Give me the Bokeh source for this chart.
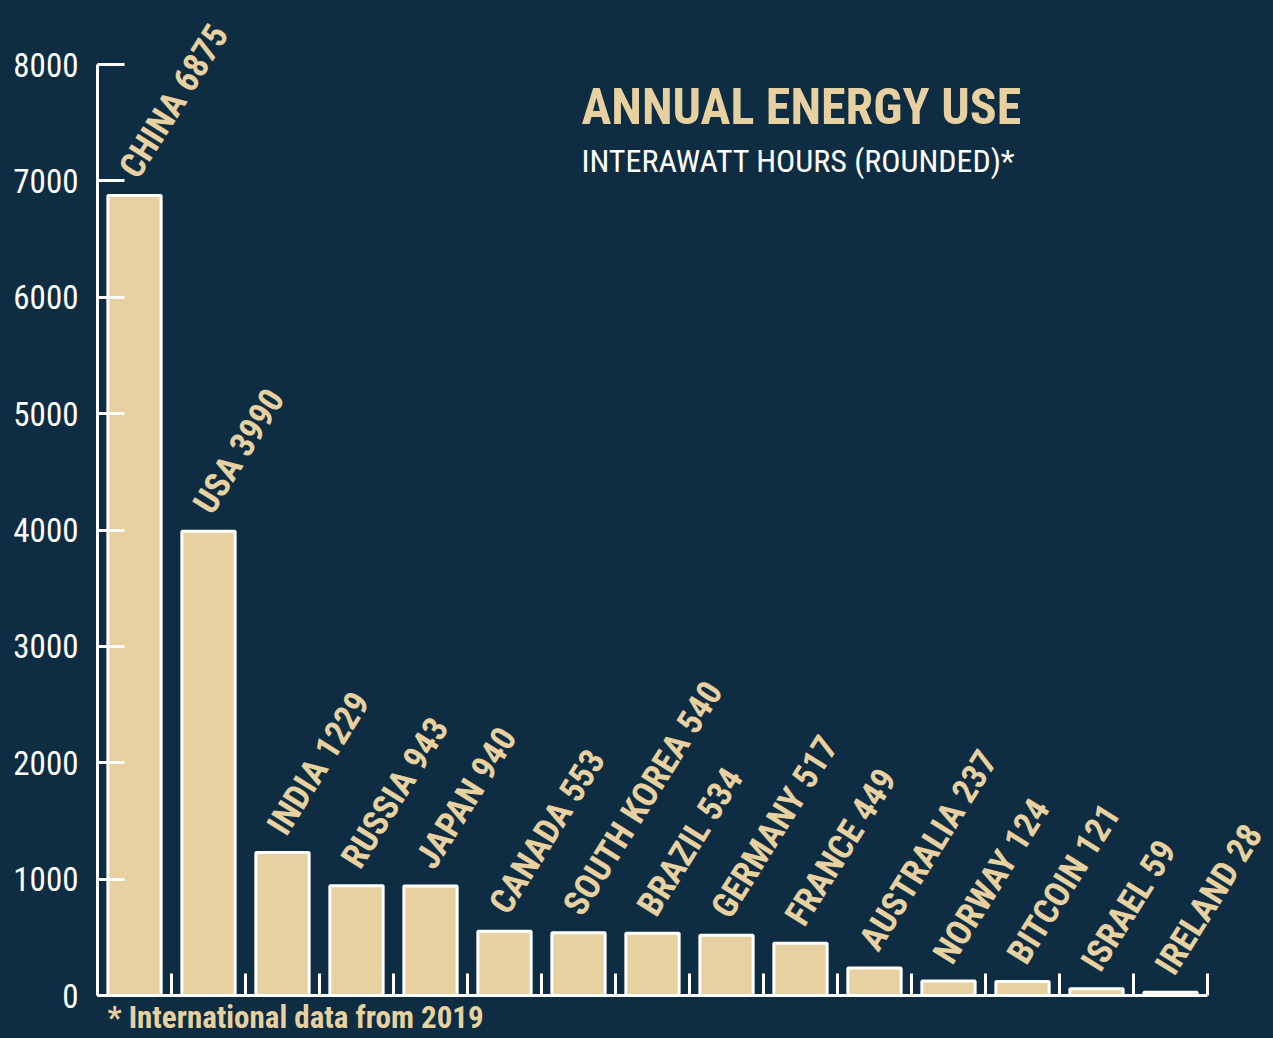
from bokeh.plotting import figure
from bokeh.models import FixedTicker, Label, ColumnDataSource, Range1d, Title
from bokeh.core.properties import value
from bokeh.embed import file_html
from bokeh.resources import INLINE

countries = ["CHINA", "USA", "INDIA", "RUSSIA", "JAPAN", "CANADA", "SOUTH KOREA", "BRAZIL",
             "GERMANY", "FRANCE", "AUSTRALIA", "NORWAY", "BITCOIN", "ISRAEL", "IRELAND"]
energy_twh = [6875, 3990, 1229, 943, 940, 553, 540, 534, 517, 449, 237, 124, 121, 59, 28]
y_ticks = [0, 1000, 2000, 3000, 4000, 5000, 6000, 7000, 8000]

BG = "#0f2d42"
TAN = "#e8d1a1"
FONT = "'Roboto Condensed', 'DejaVu Sans Condensed', sans-serif"

xs = [i + 0.5 for i in range(len(countries))]
labels = [f"{c} {v}" for c, v in zip(countries, energy_twh)]
src = ColumnDataSource(dict(x=xs, top=energy_twh, label=labels))

W, H = 1273, 1038
p = figure(width=W, height=H, output_backend="svg", toolbar_location=None,
           x_range=Range1d(0, 1176 / 74), y_range=Range1d(0, 8000 * 995 / 931),
           min_border_left=97, min_border_right=0, min_border_top=0, min_border_bottom=43)
p.background_fill_color = None
p.border_fill_color = BG
p.styles = {"background-color": BG}
p.outline_line_color = None
p.xgrid.visible = False
p.ygrid.visible = False

p.vbar(x="x", top="top", width=0.72, bottom=0, source=src,
       fill_color=TAN, line_color="white", line_width=3)

p.text(x="x", y="top", text="label", source=src, angle=58, angle_units="deg",
       x_offset=-6, y_offset=-21, text_align="left", text_baseline="alphabetic",
       text_color=TAN, text_font=value(FONT), text_font_style="bold", text_font_size="35px")

ya = p.yaxis[0]
ya.ticker = FixedTicker(ticks=y_ticks)
ya.bounds = (0, 8000)
ya.axis_line_color = "white"
ya.axis_line_width = 3
ya.major_tick_line_color = "white"
ya.major_tick_line_width = 3
ya.major_tick_in = 27
ya.major_tick_out = 0
ya.minor_tick_line_color = None
ya.major_label_standoff = 19
ya.major_label_text_color = "white"
ya.major_label_text_font = FONT
ya.major_label_text_font_size = "33px"

xa = p.xaxis[0]
xa.ticker = FixedTicker(ticks=list(range(1, len(countries) + 1)))
xa.bounds = (0, len(countries))
xa.axis_line_color = "white"
xa.axis_line_width = 3
xa.major_tick_line_color = "white"
xa.major_tick_line_width = 3
xa.major_tick_in = 22
xa.major_tick_out = 0
xa.minor_tick_line_color = None
xa.major_label_overrides = {i: "" for i in range(1, len(countries) + 1)}
xa.major_label_standoff = 0
xa.major_label_text_font_size = "1px"

p.add_layout(Label(x=6.54, y=7631, text="ANNUAL ENERGY USE", text_color=TAN,
                   text_font=FONT, text_font_style="bold", text_font_size="50px",
                   text_baseline="alphabetic"))
p.add_layout(Label(x=6.54, y=7175, text="INTERAWATT HOURS (ROUNDED)*", text_color="white",
                   text_font=FONT, text_font_size="32px", text_baseline="alphabetic"))
p.add_layout(Title(text="* International data from 2019", text_color=TAN, align="left",
                   offset=10, standoff=2, text_font=FONT, text_font_style="bold",
                   text_font_size="31px"), "below")

open("out.html", "w").write(file_html(p, INLINE))
